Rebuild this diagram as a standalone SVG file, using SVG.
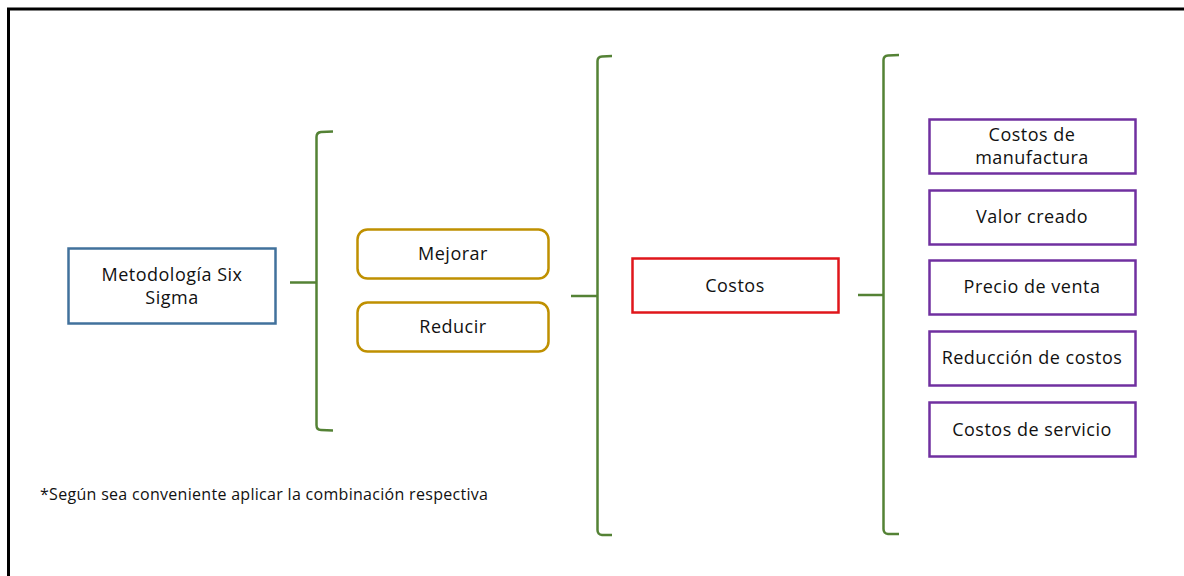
<svg xmlns="http://www.w3.org/2000/svg" width="1184" height="576" viewBox="0 0 1184 576">
  <style>
    text { font-family: "Open Sans", "Noto Sans", "Liberation Sans", sans-serif; font-size: 18px; letter-spacing: 0.5px; fill: #111111; text-anchor: middle; }
    .note { font-size: 16px; letter-spacing: 0.3px; text-anchor: start; }
    .box { fill: #ffffff; stroke-width: 2.5; }
    .blue { stroke: #41719c; }
    .gold { stroke: #bf9000; }
    .red { stroke: #e0161b; }
    .purple { stroke: #7030a0; }
    .brace { fill: none; stroke: #548235; stroke-width: 2.5; stroke-linejoin: round; }
  </style>

  <rect width="1184" height="576" fill="#ffffff"/>
  <!-- frame: top and left edges only -->
  <path d="M8.5 1184 L8.5 9 L1184 9" fill="none" stroke="#000000" stroke-width="3"/>

  <g id="connectors">
    <path class="brace" d="M333 131.5 L321 132 Q316.5 132.5 316.5 137 L316.5 425 Q316.5 430 321 430 L333 430.5"/>
    <path class="brace" d="M290 282.5 L316.5 282.5"/>
    <path class="brace" d="M612 56 L602 56.5 Q597.5 57 597.5 61 L597.5 530 Q597.5 534.5 602 535 L612 535"/>
    <path class="brace" d="M571 296 L597.5 296"/>
    <path class="brace" d="M899 55 L888 55.5 Q883.5 56 883.5 60 L883.5 529 Q883.5 533.5 888 534 L899 534"/>
    <path class="brace" d="M858 295 L883.5 295"/>
  </g>

  <g id="six-sigma">
    <rect class="box blue" x="68.5" y="248.5" width="207" height="75"/>
    <text x="172" y="281">Metodología Six</text>
    <text x="172" y="304">Sigma</text>
  </g>

  <g id="mejorar">
    <rect class="box gold" x="357.5" y="229.5" width="191" height="49" rx="10"/>
    <text x="453" y="260">Mejorar</text>
  </g>

  <g id="reducir">
    <rect class="box gold" x="357.5" y="302.5" width="191" height="49" rx="10"/>
    <text x="453" y="333">Reducir</text>
  </g>

  <g id="costos">
    <rect class="box red" x="632.5" y="258.5" width="206" height="54"/>
    <text x="735" y="292">Costos</text>
  </g>

  <g id="costos-manufactura">
    <rect class="box purple" x="929.5" y="119.5" width="206" height="54"/>
    <text x="1032" y="141">Costos de</text>
    <text x="1032" y="164">manufactura</text>
  </g>

  <g id="valor-creado">
    <rect class="box purple" x="929.5" y="190.5" width="206" height="54"/>
    <text x="1032" y="223">Valor creado</text>
  </g>

  <g id="precio-venta">
    <rect class="box purple" x="929.5" y="260.5" width="206" height="54"/>
    <text x="1032" y="293">Precio de venta</text>
  </g>

  <g id="reduccion-costos">
    <rect class="box purple" x="929.5" y="331.5" width="206" height="54"/>
    <text x="1032" y="364">Reducción de costos</text>
  </g>

  <g id="costos-servicio">
    <rect class="box purple" x="929.5" y="402.5" width="206" height="54"/>
    <text x="1032" y="436">Costos de servicio</text>
  </g>

  <g id="nota">
    <text class="note" x="40" y="500">*Según sea conveniente aplicar la combinación respectiva</text>
  </g>
</svg>
